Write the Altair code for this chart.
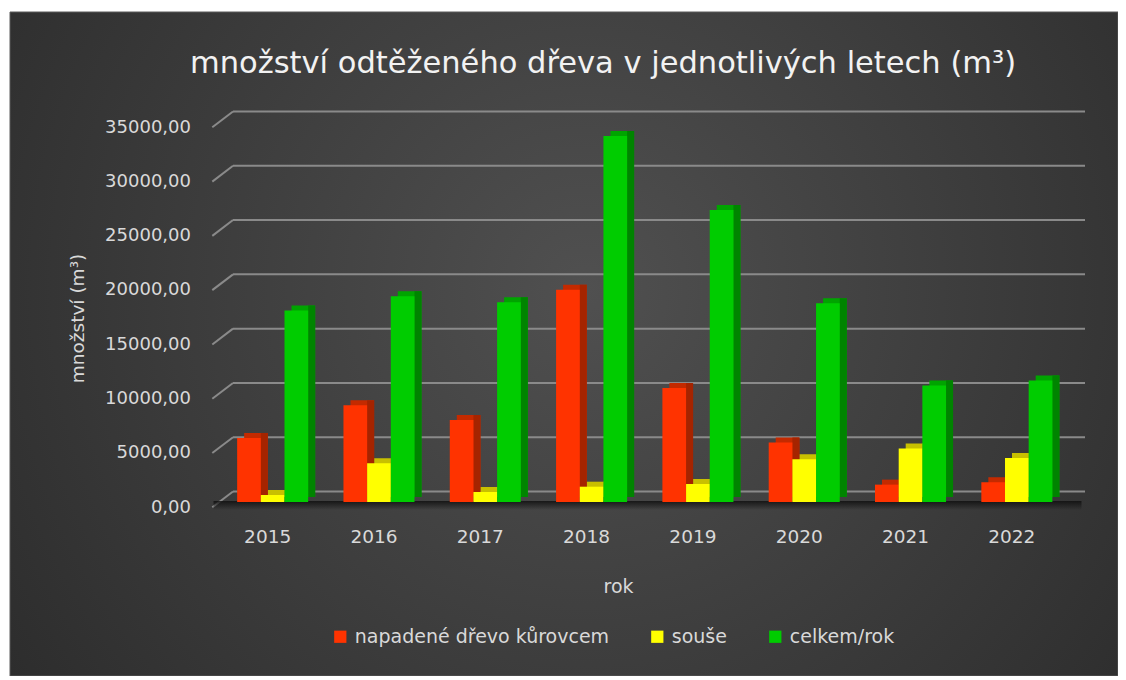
import altair as alt
import pandas as pd

# ---- data ----
years = ["2015", "2016", "2017", "2018", "2019", "2020", "2021", "2022"]
napadene = [5900, 8900, 7550, 19550, 10500, 5480, 1600, 1820]
souse = [650, 3570, 920, 1410, 1660, 3940, 4920, 4060]
celkem = [17640, 18960, 18400, 33700, 26900, 18310, 10740, 11200]
series_names = ["napadené dřevo kůrovcem", "souše", "celkem/rok"]
y_ticks = [0, 5000, 10000, 15000, 20000, 25000, 30000, 35000]

front_colors = ["#ff3300", "#ffff00", "#00cc00"]
top_colors = ["#c42a00", "#c8c000", "#00a400"]
side_colors = ["#a52400", "#a8a000", "#008400"]

series_values = [napadene, souse, celkem]
grid_df = pd.DataFrame({"hodnota": y_ticks})
one = pd.DataFrame({"a": [0]})

W = 850.5
H = 380
P_IN, P_OUT = 0.332, 0.166
step = W / (len(years) - P_IN + 2 * P_OUT)
sub_w = step * (1 - P_IN) / 3
DX, DY = 7, 5
FONT = "DejaVu Sans"
TXT = "#d9d9d9"

x_scale = alt.Scale(domain=years, paddingInner=P_IN, paddingOuter=P_OUT)
y_scale = alt.Scale(domain=[0, 35000], nice=False, zero=True)

x_enc = alt.X(
    "rok:N", scale=x_scale, sort=years,
    axis=alt.Axis(title="rok", labelAngle=0, labelFont=FONT, labelFontSize=18.5,
                  labelColor=TXT, ticks=False, domain=False, grid=False,
                  labelPadding=25, labelOffset=-5, titleFont=FONT, titleFontSize=19,
                  titleFontWeight="normal", titleColor=TXT, titleX=398.5,
                  titleY=84, titleBaseline="middle", titleAlign="center", zindex=1),
)
y_enc = alt.Y(
    "hodnota:Q", scale=y_scale,
    axis=alt.Axis(values=y_ticks,
                  labelExpr="replace(format(datum.value, '.2f'), '.', ',')",
                  labelFont=FONT, labelFontSize=18, labelColor=TXT,
                  labelOffset=5, labelPadding=29, ticks=False, domain=False,
                  grid=False, title="množství (m³)", titleFont=FONT,
                  titleFontSize=18.5, titleFontWeight="normal", titleColor=TXT,
                  titleX=-142, titleY=196, titleAngle=270, titleAlign="center",
                  titleBaseline="middle", zindex=1),
)

bg = alt.Chart(one).mark_rect(
    fill=alt.RadialGradient(
        gradient="radial", x1=0.52, y1=0.45, r1=0, x2=0.52, y2=0.45, r2=0.75,
        stops=[alt.GradientStop(offset=0, color="#505050"),
               alt.GradientStop(offset=1, color="#262626")]),
    stroke="#5a5a5a", strokeWidth=1,
).encode(x=alt.value(-209.5), x2=alt.value(898.5), y=alt.value(-110), y2=alt.value(554))

grid = alt.Chart(grid_df).mark_rule(color="#8a8a8a", strokeWidth=2, yOffset=-10.5).encode(
    y=y_enc, x=alt.value(13.5), x2=alt.value(865.5))

diag = alt.Chart(grid_df).mark_rule(color="#8a8a8a", strokeWidth=2, yOffset=5.3,
                                    y2Offset=-10.5).encode(
    y=y_enc, y2=alt.Y2("hodnota"),
    x=alt.value(-7.2), x2=alt.value(13.5))

shadow = alt.Chart(one).mark_rect(
    fill=alt.LinearGradient(
        gradient="linear", x1=0, y1=0, x2=0, y2=1,
        stops=[alt.GradientStop(offset=0, color="rgba(15,15,15,0.85)"),
               alt.GradientStop(offset=1, color="rgba(15,15,15,0)")]),
).encode(x=alt.value(-6), x2=alt.value(862), y=alt.value(H - 1), y2=alt.value(H + 8))

tops, sides, fronts = [], [], []
for k, (name, vals) in enumerate(zip(series_names, series_values)):
    sdf = pd.DataFrame({"rok": years, "serie": [name] * len(years), "hodnota": vals})
    shift = (k - 1) * sub_w
    base = alt.Chart(sdf)
    tops.append(base.mark_bar(width=sub_w, xOffset=shift + DX, yOffset=-DY,
                              y2Offset=-DY, color=top_colors[k]).encode(x=x_enc, y=y_enc))
    sides.append(base.mark_bar(width=DX, xOffset=shift + sub_w / 2 + DX / 2,
                               yOffset=-DY, y2Offset=-DY,
                               color=side_colors[k]).encode(x=x_enc, y=y_enc))
    fronts.append(base.mark_bar(width=sub_w, xOffset=shift).encode(
        x=x_enc, y=y_enc,
        color=alt.Color("serie:N",
                        scale=alt.Scale(domain=series_names, range=front_colors),
                        legend=alt.Legend(orient="none", legendX=111.3, legendY=505,
                                          direction="horizontal", title=None,
                                          symbolType="square", symbolSize=150,
                                          symbolStrokeWidth=0, labelFont=FONT,
                                          labelFontSize=19, labelColor=TXT,
                                          labelLimit=400, columnPadding=38,
                                          labelOffset=5))))

chart = alt.layer(bg, grid, diag, shadow, *tops, *sides, *fronts).properties(
    width=W, height=H,
    padding={"left": 211.5, "top": 114, "right": 48, "bottom": 174},
    autosize=alt.AutoSizeParams(type="none"),
    background="white",
    title=alt.TitleParams(
        text="množství odtěženého dřeva v jednotlivých letech (m³)",
        font=FONT, fontSize=30.5, fontWeight="normal", color="#f2f2f2",
        anchor="middle", frame="group", dx=-41.7, offset=-91.5,
        baseline="alphabetic"),
).configure_view(strokeWidth=0)

chart.save("out.html", embed_options={"renderer": "svg", "actions": False})
